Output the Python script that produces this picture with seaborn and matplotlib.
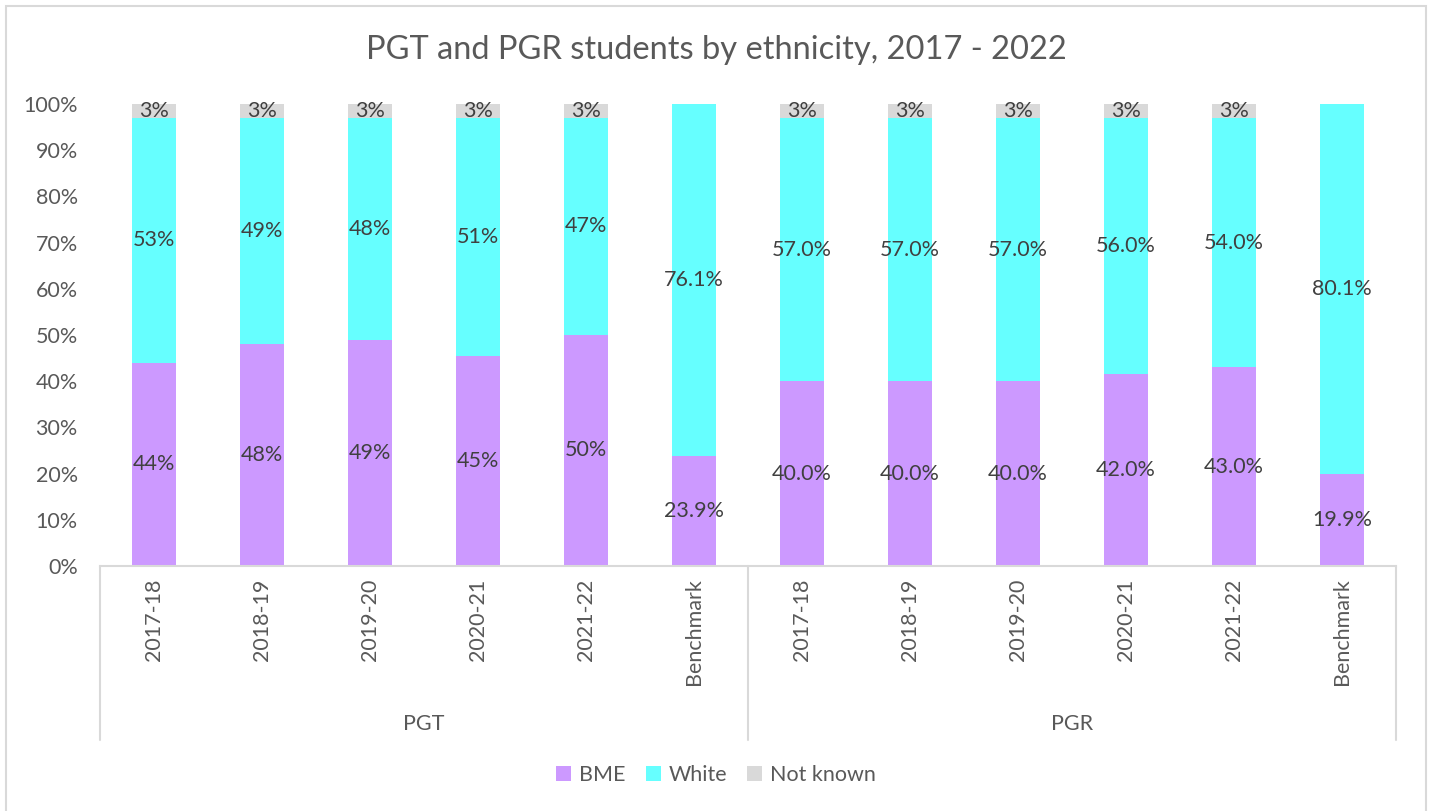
import matplotlib
matplotlib.use("Agg")
import matplotlib.pyplot as plt
import matplotlib.transforms as mtransforms
from matplotlib.patches import Rectangle, Patch
import numpy as np
import pandas as pd
import seaborn as sns

# ---- data -----------------------------------------------------------------
groups = ["PGT"] * 6 + ["PGR"] * 6
periods = ["2017-18", "2018-19", "2019-20", "2020-21", "2021-22", "Benchmark"] * 2
bme = [44, 48, 49, 45, 50, 23.9, 40.0, 40.0, 40.0, 42.0, 43.0, 19.9]
white = [53, 49, 48, 51, 47, 76.1, 57.0, 57.0, 57.0, 56.0, 54.0, 80.1]
not_known = [3, 3, 3, 3, 3, 0, 3, 3, 3, 3, 3, 0]

bme_labels = ["44%", "48%", "49%", "45%", "50%", "23.9%",
              "40.0%", "40.0%", "40.0%", "42.0%", "43.0%", "19.9%"]
white_labels = ["53%", "49%", "48%", "51%", "47%", "76.1%",
                "57.0%", "57.0%", "57.0%", "56.0%", "54.0%", "80.1%"]
nk_labels = ["3%", "3%", "3%", "3%", "3%", "",
             "3%", "3%", "3%", "3%", "3%", ""]

series_names = ["BME", "White", "Not known"]
colors = ["#CC99FF", "#66FFFF", "#D9D9D9"]

# ---- 100% stacked shares --------------------------------------------------
df = pd.DataFrame({"group": groups, "period": periods,
                   "BME": bme, "White": white, "Not known": not_known})
df["key"] = df["group"] + " " + df["period"]
total = df[series_names].sum(axis=1)
for s in series_names:
    df[s + "_share"] = df[s] / total * 100

sns.set_theme(style="white")
plt.rcParams["font.family"] = ["Lato", "DejaVu Sans"]

FS = 15.5
W, H = 1432, 811
fig = plt.figure(figsize=(W / 100, H / 100), dpi=100)
ax = fig.add_axes([100 / W, 1 - 566 / H, (1396 - 100) / W, (566 - 104) / H])

order = list(df["key"])
bottom = np.zeros(len(df))
label_sets = [bme_labels, white_labels, nk_labels]
for name, col, labs in zip(series_names, colors, label_sets):
    sns.barplot(data=df, x="key", y=name + "_share", order=order,
                color=col, width=0.41, bottom=bottom, ax=ax,
                linewidth=0, saturation=1, errorbar=None)
    cont = ax.containers[-1]
    ax.bar_label(cont, labels=labs, label_type="center",
                 fontsize=FS, color="#404040")
    bottom = bottom + df[name + "_share"].to_numpy()

# ---- axes styling ---------------------------------------------------------
ax.set_xlim(-0.5, len(df) - 0.5)
ax.set_ylim(0, 100)
ax.set_yticks(np.arange(0, 101, 10))
ax.set_yticklabels([f"{v}%" for v in range(0, 101, 10)])
ax.tick_params(axis="y", length=0, pad=16, labelsize=FS, labelcolor="#595959")
ax.set_xticks(range(len(df)))
ax.set_xticklabels(periods, rotation=90, va="top", ha="center")
ax.tick_params(axis="x", length=0, pad=9, labelsize=FS, labelcolor="#595959")
ax.set_xlabel("")
ax.set_ylabel("")
for side in ["left", "right", "top"]:
    ax.spines[side].set_visible(False)
ax.spines["bottom"].set_color("#D9D9D9")
ax.spines["bottom"].set_linewidth(1.5)
ax.grid(False)

# multi-level category axis: dividers and group names
trans = mtransforms.blended_transform_factory(ax.transData, ax.transAxes)
depth = -(740 - 566) / (566 - 104)
for xd in [-0.5, 5.5, 11.5]:
    ax.plot([xd, xd], [0, depth], transform=trans, color="#D9D9D9",
            lw=1.5, clip_on=False)
label_y = -(724 - 566) / (566 - 104)
ax.text(2.5, label_y, "PGT", transform=trans, ha="center", va="center",
        fontsize=FS, color="#595959")
ax.text(8.5, label_y, "PGR", transform=trans, ha="center", va="center",
        fontsize=FS, color="#595959")

# title
fig.text(716 / W, 1 - 50 / H, "PGT and PGR students by ethnicity, 2017 - 2022",
         ha="center", va="center", fontsize=23.5, color="#595959")

# legend
handles = [Patch(facecolor=c, edgecolor="none", label=n)
           for n, c in zip(series_names, colors)]
fig.legend(handles=handles, loc="center", bbox_to_anchor=(0.5, 1 - 775 / H),
           ncol=3, frameon=False, fontsize=FS, handlelength=0.7,
           handleheight=0.7, handletextpad=0.35, columnspacing=0.95,
           labelcolor="#595959")

# chart frame
fig.patches.append(Rectangle((6 / W, -0.01), (1426 - 6) / W, (H - 6) / H + 0.01,
                             transform=fig.transFigure, fill=False,
                             edgecolor="#D9D9D9", linewidth=1.5))

fig.savefig("out.png", dpi=100, facecolor="white")
